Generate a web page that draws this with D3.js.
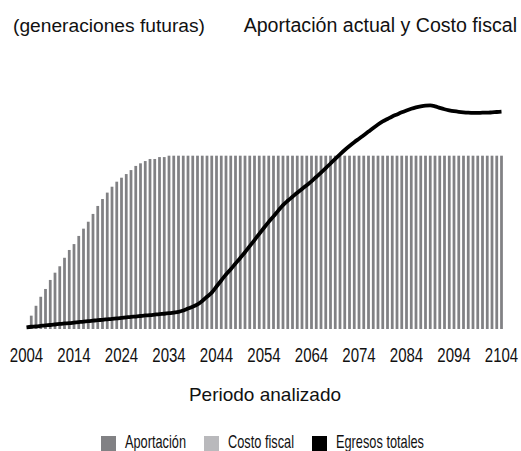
<!DOCTYPE html>
<html>
<head>
<meta charset="utf-8">
<script src="https://cdn.jsdelivr.net/npm/d3@7"></script>
<style>
  html, body { margin: 0; padding: 0; background: #fff; }
  svg text { font-family: "Liberation Sans", Arial, sans-serif; fill: #111; }
</style>
</head>
<body>
<svg id="chart" width="521" height="451"></svg>
<script>
const years = d3.range(2004, 2105);
const tickYears = [2004, 2014, 2024, 2034, 2044, 2054, 2064, 2074, 2084, 2094, 2104];

// Aportación (bars), relative units
const aportacion = [
  0, 7.7, 13.4, 18.6, 23.1, 28.3, 32.5, 36.2, 41.1, 45.6,
  49.0, 53.7, 57.9, 61.9, 66.4, 71.0, 75.0, 78.7, 82.1, 85.0,
  87.3, 89.4, 91.7, 94.1, 95.6, 96.9, 98.1, 98.1, 99.2, 99.2,
  100, 100, 100, 100, 100, 100, 100, 100, 100, 100,
  100, 100, 100, 100, 100, 100, 100, 100, 100, 100,
  100, 100, 100, 100, 100, 100, 100, 100, 100, 100,
  100, 100, 100, 100, 100, 100, 100, 100, 100, 100,
  100, 100, 100, 100, 100, 100, 100, 100, 100, 100,
  100, 100, 100, 100, 100, 100, 100, 100, 100, 100,
  100, 100, 100, 100, 100, 100, 100, 100, 100, 100,
  100
];

// Egresos totales (line), relative units
const egresos = [
  1.0, 1.3, 1.5, 1.8, 2.1, 2.3, 2.6, 2.9, 3.2, 3.4,
  3.7, 4.0, 4.3, 4.5, 4.8, 5.1, 5.3, 5.6, 5.9, 6.1,
  6.4, 6.7, 7.0, 7.2, 7.5, 7.8, 8.0, 8.3, 8.6, 8.8,
  9.1, 9.5, 9.9, 10.7, 11.8, 12.9, 14.2, 16.2, 18.6, 21.0,
  24.5, 28.0, 31.5, 34.5, 37.8, 41.0, 44.3, 47.8, 51.3, 54.9,
  58.4, 61.8, 65.0, 68.3, 71.5, 74.0, 76.3, 78.6, 80.8, 83.0,
  85.2, 87.7, 90.2, 92.8, 95.5, 98.2, 100.8, 103.3, 105.6, 107.8,
  109.8, 111.8, 113.9, 116.0, 118.0, 119.8, 121.2, 122.6, 123.8, 125.0,
  126.1, 127.1, 127.9, 128.5, 128.9, 129.0, 128.5, 127.6, 126.8, 126.2,
  125.7, 125.3, 125.0, 124.8, 124.7, 124.7, 124.8, 124.8, 125.0, 125.2,
  125.4
];

const legendLabels = ["Aportación", "Costo fiscal", "Egresos totales"];
const legendColors = ["#818184", "#b9b9bc", "#000000"];

const svg = d3.select("#chart");

const x = d3.scaleBand()
  .domain(years)
  .range([24.125, 503.875])
  .paddingInner(0.42)
  .paddingOuter(0.21);

const y = d3.scaleLinear()
  .domain([0, 130])
  .range([329, 103.7]);

// Titles
svg.append("text").attr("x", 13).attr("y", 32)
  .attr("font-size", 19.2).text("(generaciones futuras)");
svg.append("text").attr("x", 517).attr("y", 32)
  .attr("text-anchor", "end")
  .attr("font-size", 19.6).text("Aportación actual y Costo fiscal");

// Bars
svg.append("g").selectAll("rect")
  .data(years.map((yr, i) => ({ yr, v: aportacion[i] })))
  .join("rect")
  .attr("x", d => x(d.yr))
  .attr("width", x.bandwidth())
  .attr("y", d => y(d.v))
  .attr("height", d => y(0) - y(d.v))
  .attr("fill", legendColors[0]);

// Line
const line = d3.line()
  .x((d, i) => x(years[i]) + x.bandwidth() / 2)
  .y(d => y(d))
  .curve(d3.curveMonotoneX);

svg.append("path")
  .datum(egresos)
  .attr("d", line)
  .attr("fill", "none")
  .attr("stroke", "#000")
  .attr("stroke-width", 3.8)
  .attr("stroke-linejoin", "round");

// X axis (labels only)
const xAxis = d3.axisBottom(x)
  .tickValues(tickYears)
  .tickSize(0)
  .tickPadding(0)
  .tickFormat(d3.format("d"));

const gx = svg.append("g")
  .attr("transform", `translate(0,${y(0)})`)
  .call(xAxis);
gx.select(".domain").remove();
gx.attr("font-family", null).attr("font-size", null);
gx.selectAll("text")
  .attr("y", 33)
  .attr("dy", null)
  .attr("font-size", 19.5)
  .attr("fill", "#1a1a1a")
  .attr("transform", "scale(0.77,1)");

// X axis title
svg.append("text").attr("x", 265).attr("y", 401)
  .attr("text-anchor", "middle")
  .attr("font-size", 19).text("Periodo analizado");

// Legend
const legendX = [101, 204, 312];
const lg = svg.append("g").selectAll("g")
  .data(legendLabels)
  .join("g")
  .attr("transform", (d, i) => `translate(${legendX[i]},436)`);
lg.append("rect")
  .attr("width", 15).attr("height", 15)
  .attr("fill", (d, i) => legendColors[i]);
lg.append("text")
  .attr("transform", "translate(24,11.5) scale(0.71,1)")
  .attr("font-size", 18)
  .text(d => d);
</script>
</body>
</html>
